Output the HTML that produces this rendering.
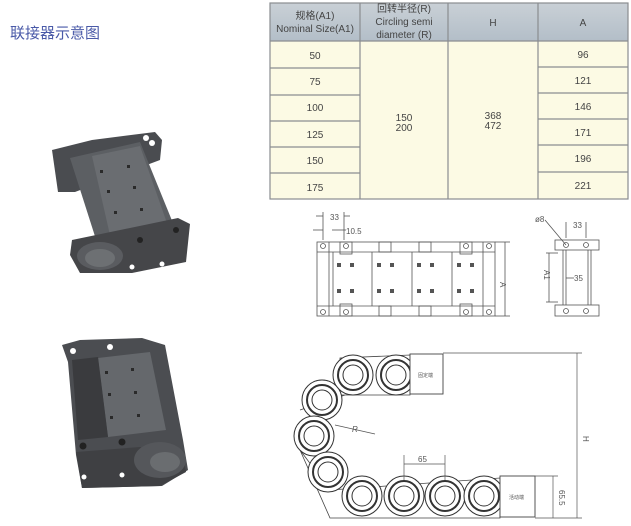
<!DOCTYPE html>
<html><head><meta charset="utf-8"><style>
body{margin:0;background:#fff;}
svg{display:block}
text{font-family:"Liberation Sans","Noto Sans CJK SC",sans-serif;}
</style></head><body>
<svg width="631" height="526" viewBox="0 0 631 526" xmlns="http://www.w3.org/2000/svg">
<defs>
<linearGradient id="hd" x1="0" y1="0" x2="0" y2="1"><stop offset="0" stop-color="#c9d0d6"/><stop offset="1" stop-color="#b3bec8"/></linearGradient>
</defs>
<rect width="631" height="526" fill="#fff"/>
<text x="10" y="38" font-size="15" fill="#4a5aa8" font-family="Noto Sans CJK SC,sans-serif">联接器示意图</text>

<!-- table -->
<rect x="270" y="3" width="358" height="38" fill="url(#hd)"/>
<rect x="270" y="41" width="358" height="158" fill="#fcfae4"/>
<g stroke="#8a8d90" stroke-width="1.2" fill="none">
<rect x="270" y="3" width="358" height="196"/>
<line x1="270" y1="41" x2="628" y2="41"/>
<line x1="360" y1="3" x2="360" y2="199"/>
<line x1="448" y1="3" x2="448" y2="199"/>
<line x1="538" y1="3" x2="538" y2="199"/>
<line x1="270" y1="68" x2="360" y2="68"/><line x1="270" y1="95" x2="360" y2="95"/>
<line x1="270" y1="121" x2="360" y2="121"/><line x1="270" y1="147" x2="360" y2="147"/>
<line x1="270" y1="173" x2="360" y2="173"/>
<line x1="538" y1="67" x2="628" y2="67"/><line x1="538" y1="93" x2="628" y2="93"/>
<line x1="538" y1="119" x2="628" y2="119"/><line x1="538" y1="145" x2="628" y2="145"/>
<line x1="538" y1="172" x2="628" y2="172"/>
</g>
<g font-size="10" fill="#444" text-anchor="middle">
<text x="315" y="19">规格(A1)</text><text x="315" y="32">Nominal Size(A1)</text>
<text x="404" y="12">回转半径(R)</text><text x="404" y="25">Circling semi</text><text x="404" y="38">diameter (R)</text>
<text x="493" y="26">H</text><text x="583" y="26">A</text>
<text x="315" y="59">50</text><text x="315" y="85">75</text><text x="315" y="111">100</text>
<text x="315" y="138">125</text><text x="315" y="164">150</text><text x="315" y="191">175</text>
<text x="404" y="121">150</text><text x="404" y="131">200</text>
<text x="493" y="119">368</text><text x="493" y="129">472</text>
<text x="583" y="58">96</text><text x="583" y="84">121</text><text x="583" y="110">146</text>
<text x="583" y="136">171</text><text x="583" y="162">196</text><text x="583" y="189">221</text>
</g>

<!-- photo top -->
<g>
<polygon points="52,150 92,140 155,132 162,140 160,160 75,192 58,192" fill="#4a4c50"/>
<polygon points="70,158 140,142 175,228 100,252" fill="#5c5f63"/>
<polygon points="92,156 140,146 168,226 112,244" fill="#6a6d71"/>
<polygon points="72,240 178,218 190,224 186,262 132,273 80,273 70,255" fill="#454649"/>
<ellipse cx="100" cy="256" rx="23" ry="14" fill="#5a5c60"/>
<ellipse cx="100" cy="258" rx="15" ry="9" fill="#6d7073"/>
<circle cx="152" cy="143" r="3" fill="#fff"/><circle cx="146" cy="138" r="3" fill="#fff"/>
<circle cx="176" cy="230" r="3" fill="#222"/><circle cx="140" cy="240" r="3" fill="#222"/>
<circle cx="162" cy="264" r="2.5" fill="#fff"/><circle cx="132" cy="267" r="2.5" fill="#fff"/>
<g fill="#2a2a2a"><rect x="100" y="170" width="3" height="3"/><rect x="127" y="165" width="3" height="3"/><rect x="107" y="190" width="3" height="3"/><rect x="133" y="186" width="3" height="3"/><rect x="114" y="211" width="3" height="3"/><rect x="140" y="208" width="3" height="3"/></g>
</g>
<!-- photo bottom -->
<g>
<polygon points="62,345 80,340 142,338 165,345 183,440 188,470 162,486 82,488 76,455 68,362" fill="#4b4d51"/>
<polygon points="98,358 150,352 166,430 108,437" fill="#65686c"/>
<polygon points="72,360 98,357 108,437 78,440" fill="#3a3b3e"/>
<polygon points="76,452 140,447 184,460 186,472 160,486 82,488" fill="#3f4043"/>
<ellipse cx="160" cy="460" rx="26" ry="18" fill="#55575b"/>
<ellipse cx="165" cy="462" rx="15" ry="10" fill="#6a6d70"/>
<circle cx="73" cy="351" r="3" fill="#fff"/><circle cx="110" cy="347" r="3" fill="#fff"/>
<circle cx="83" cy="446" r="3.5" fill="#222"/><circle cx="122" cy="442" r="3.5" fill="#222"/>
<circle cx="84" cy="477" r="2.5" fill="#fff"/><circle cx="122" cy="475" r="2.5" fill="#fff"/>
<g fill="#2a2a2a"><rect x="105" y="371" width="3" height="3"/><rect x="131" y="368" width="3" height="3"/><rect x="108" y="393" width="3" height="3"/><rect x="134" y="391" width="3" height="3"/><rect x="110" y="416" width="3" height="3"/><rect x="137" y="414" width="3" height="3"/></g>
</g>

<!-- top front drawing -->
<g stroke="#555" stroke-width="0.8" fill="none">
<rect x="317" y="242" width="178" height="74"/>
<line x1="317" y1="252" x2="495" y2="252"/><line x1="317" y1="306" x2="495" y2="306"/>
<line x1="333" y1="252" x2="333" y2="306"/><line x1="372" y1="252" x2="372" y2="306"/>
<line x1="412" y1="252" x2="412" y2="306"/><line x1="452" y1="252" x2="452" y2="306"/>
<line x1="483" y1="242" x2="483" y2="316"/><line x1="329" y1="242" x2="329" y2="316"/>
<rect x="340" y="242" width="12" height="12"/><rect x="379" y="242" width="12" height="10"/><rect x="419" y="242" width="12" height="10"/><rect x="460" y="242" width="12" height="12"/>
<rect x="340" y="304" width="12" height="12"/><rect x="379" y="306" width="12" height="10"/><rect x="419" y="306" width="12" height="10"/><rect x="460" y="304" width="12" height="12"/>
<circle cx="323" cy="246" r="2.5"/><circle cx="346" cy="246" r="2.5"/><circle cx="466" cy="246" r="2.5"/><circle cx="489" cy="246" r="2.5"/>
<circle cx="323" cy="312" r="2.5"/><circle cx="346" cy="312" r="2.5"/><circle cx="466" cy="312" r="2.5"/><circle cx="489" cy="312" r="2.5"/>
<line x1="323" y1="212" x2="323" y2="240"/><line x1="344" y1="212" x2="344" y2="240"/>
<line x1="316" y1="216" x2="323" y2="216"/><line x1="344" y1="216" x2="350" y2="216"/>
<line x1="313" y1="230" x2="323" y2="230"/><line x1="332" y1="230" x2="346" y2="230"/>
<line x1="495" y1="242" x2="510" y2="242"/><line x1="495" y1="316" x2="510" y2="316"/>
<line x1="505" y1="242" x2="505" y2="316"/>
</g>
<g fill="#555"><rect x="337" y="263" width="4" height="4"/><rect x="350" y="263" width="4" height="4"/><rect x="377" y="263" width="4" height="4"/><rect x="390" y="263" width="4" height="4"/><rect x="417" y="263" width="4" height="4"/><rect x="430" y="263" width="4" height="4"/><rect x="457" y="263" width="4" height="4"/><rect x="470" y="263" width="4" height="4"/>
<rect x="337" y="289" width="4" height="4"/><rect x="350" y="289" width="4" height="4"/><rect x="377" y="289" width="4" height="4"/><rect x="390" y="289" width="4" height="4"/><rect x="417" y="289" width="4" height="4"/><rect x="430" y="289" width="4" height="4"/><rect x="457" y="289" width="4" height="4"/><rect x="470" y="289" width="4" height="4"/></g>
<g font-size="8" fill="#555" font-family="Liberation Serif,serif"><text x="330" y="220">33</text><text x="346" y="234">10.5</text><text x="500" y="282" transform="rotate(90 500 282)">A</text></g>

<!-- side view -->
<g stroke="#555" stroke-width="0.8" fill="none">
<rect x="555" y="240" width="44" height="10"/><rect x="555" y="305" width="44" height="11"/>
<line x1="563" y1="250" x2="563" y2="305"/><line x1="566" y1="250" x2="566" y2="305"/>
<line x1="588" y1="250" x2="588" y2="305"/><line x1="591" y1="250" x2="591" y2="305"/>
<circle cx="566" cy="245" r="2.5"/><circle cx="586" cy="245" r="2.5"/>
<circle cx="566" cy="311" r="2.5"/><circle cx="586" cy="311" r="2.5"/>
<line x1="545" y1="220" x2="566" y2="245"/><line x1="566" y1="222" x2="566" y2="238"/><line x1="586" y1="222" x2="586" y2="238"/>
<line x1="546" y1="253" x2="558" y2="253"/><line x1="546" y1="302" x2="558" y2="302"/><line x1="549" y1="253" x2="549" y2="302"/>
<line x1="566" y1="278" x2="574" y2="278"/>
</g>
<g font-size="8" fill="#555" font-family="Liberation Serif,serif"><text x="535" y="222">ø8</text><text x="573" y="228">33</text><text x="574" y="281">35</text><text x="544" y="270" transform="rotate(90 544 270)">A1</text></g>

<!-- chain -->
<g stroke="#444" fill="#fff" stroke-width="1">
<path d="M340,358 L410,355 L410,395 L340,395 Z M300,410 L345,395 M300,450 L330,490 L500,478 L500,518 L330,518 Z" fill="none" stroke-width="0.8"/>
</g>
<g fill="#fff" stroke="#333">
<g transform="translate(396,375)"><circle r="20"/><circle r="15" stroke-width="2"/><circle r="10"/></g>
<g transform="translate(353,375)"><circle r="20"/><circle r="15" stroke-width="2"/><circle r="10"/></g>
<g transform="translate(322,400)"><circle r="20"/><circle r="15" stroke-width="2"/><circle r="10"/></g>
<g transform="translate(314,436)"><circle r="20"/><circle r="15" stroke-width="2"/><circle r="10"/></g>
<g transform="translate(328,472)"><circle r="20"/><circle r="15" stroke-width="2"/><circle r="10"/></g>
<g transform="translate(362,496)"><circle r="20"/><circle r="15" stroke-width="2"/><circle r="10"/></g>
<g transform="translate(404,496)"><circle r="20"/><circle r="15" stroke-width="2"/><circle r="10"/></g>
<g transform="translate(445,496)"><circle r="20"/><circle r="15" stroke-width="2"/><circle r="10"/></g>
<g transform="translate(484,496)"><circle r="20"/><circle r="15" stroke-width="2"/><circle r="10"/></g>
</g>
<g stroke="#444" fill="#fff" stroke-width="0.9">
<rect x="410" y="354" width="33" height="40"/><rect x="500" y="476" width="35" height="41"/>
</g>
<g stroke="#555" stroke-width="0.7" fill="none">
<line x1="443" y1="353" x2="582" y2="353"/><line x1="535" y1="518" x2="582" y2="518"/>
<line x1="577" y1="353" x2="577" y2="518"/>
<line x1="535" y1="476" x2="558" y2="476"/><line x1="553" y1="476" x2="553" y2="518"/>
<line x1="404" y1="455" x2="404" y2="480"/><line x1="445" y1="455" x2="445" y2="480"/><line x1="404" y1="464" x2="445" y2="464"/>
<line x1="335" y1="425" x2="375" y2="434"/>
</g>
<g font-size="8" fill="#555" font-family="Liberation Serif,serif">
<text x="418" y="462">65</text><text x="352" y="432" font-style="italic">R</text>
<text x="583" y="436" transform="rotate(90 583 436)">H</text>
<text x="559" y="490" transform="rotate(90 559 490)">65.5</text>
<text x="418" y="377" font-size="5" font-family="Noto Sans CJK SC,sans-serif">固定端</text>
<text x="509" y="499" font-size="5" font-family="Noto Sans CJK SC,sans-serif">活动端</text>
</g>
</svg>
</body></html>
